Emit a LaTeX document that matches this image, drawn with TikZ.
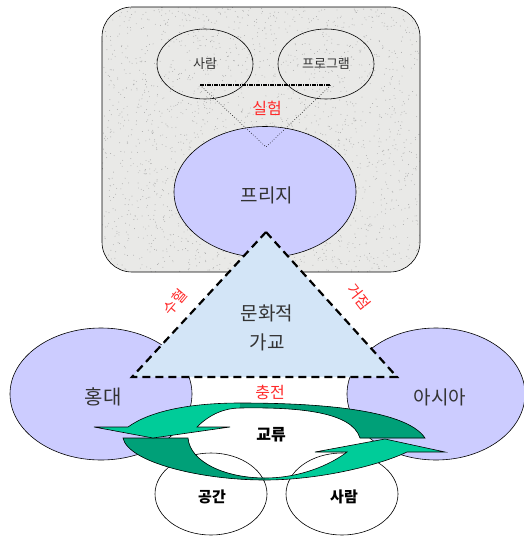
\documentclass[tikz,border=0pt]{standalone}
\usepackage{fontspec}
\setmainfont{Noto Sans CJK KR}
\usetikzlibrary{shapes.geometric}
\definecolor{lav}{HTML}{CCCCFF}
\definecolor{granite}{HTML}{E9E9E7}
\definecolor{speck}{HTML}{A8A8A8}
\definecolor{bridge}{HTML}{D3E5F7}
\definecolor{glight}{HTML}{00CC99}
\definecolor{gdark}{HTML}{00A078}
\definecolor{txt}{HTML}{333333}
\definecolor{redtxt}{HTML}{FF2A2A}
\tikzset{
  oval/.style={ellipse, draw=black, line width=0.6pt, inner sep=0pt, text=txt},
  lavoval/.style={oval, fill=lav},
  redlbl/.style={text=redtxt, inner sep=0pt},
  plainlbl/.style={text=txt, inner sep=0pt},
  boldlbl/.style={text=black, inner sep=0pt, font=\bfseries\fontsize{15}{15}\selectfont},
  ribbon/.style={draw=black, line width=0.6pt},
}
\begin{document}
\begin{tikzpicture}[x=1pt,y=-1pt]
\useasboundingbox (0,0) rectangle (523,536);

% outer rounded box with granite speckle
\fill[rounded corners=30pt, granite] (102,7) rectangle (420,272);
\begin{scope}
  \clip[rounded corners=30pt] (102,7) rectangle (420,272);
  \pgfmathsetseed{7}
  \foreach \i in {1,...,2200} {
    \fill[speck] ({102+318*rnd},{7+265*rnd}) circle (0.45pt);
  }
\end{scope}
\draw[rounded corners=30pt, line width=0.6pt] (102,7) rectangle (420,272);

% top small ellipses
\node[oval, minimum width=96pt, minimum height=70pt, font=\fontsize{13}{13}\selectfont] (saram1) at (205,64) {사람};
\node[oval, minimum width=96pt, minimum height=70pt, font=\fontsize{13}{13}\selectfont] (program) at (326,64) {프로그램};

% Fringe ellipse
\node[lavoval, minimum width=182pt, minimum height=131pt] (fringe) at (265,192) {};
\node[plainlbl, font=\fontsize{19}{19}\selectfont] (fringelbl) at (267,195) {프리지};

% dotted triangle
\coordinate (dl) at (200,85);
\coordinate (dr) at (331,85);
\coordinate (dt) at (266,147);
\draw[line width=1.2pt, dash pattern=on 4pt off 1pt on 1pt off 1pt] (dl) -- (dr);
\draw[line width=0.6pt, dotted] (dl) -- (dt) -- (dr);
\node[redlbl, font=\fontsize{16}{16}\selectfont] (silheom) at (267,108) {실험};

% side ellipses
\node[lavoval, minimum width=182pt, minimum height=132pt] (hongdae) at (101,394) {};
\node[lavoval, minimum width=178pt, minimum height=132pt] (asia) at (436,394) {};
\node[plainlbl, font=\fontsize{20}{20}\selectfont] (hongdaelbl) at (103,397) {홍대};
\node[plainlbl, font=\fontsize{19}{19}\selectfont] (asialbl) at (440,397) {아시아};

% cultural bridge triangle
\coordinate (ta) at (266,232);
\coordinate (tr) at (397,377);
\coordinate (tl) at (132,377);
\draw[fill=bridge, line width=2.2pt, dash pattern=on 8pt off 5pt, line join=miter] (ta) -- (tr) -- (tl) -- cycle;
\node[plainlbl, font=\fontsize{19}{19}\selectfont] (munhwa) at (267,313) {문화적};
\node[plainlbl, font=\fontsize{19}{19}\selectfont] (gagyo) at (267,342) {가교};
\node[redlbl, rotate=50, font=\fontsize{15}{15}\selectfont] (suhyeol) at (175,302) {수혈};
\node[redlbl, rotate=-52, font=\fontsize{15}{15}\selectfont] (geojeom) at (359,297) {거점};
\node[redlbl, font=\fontsize{16}{16}\selectfont] (chungjeon) at (270,392) {충전};

% bottom ellipses
\node[oval, fill=white, minimum width=112pt, minimum height=82pt] (gonggan) at (211,494) {};
\node[oval, fill=white, minimum width=112pt, minimum height=82pt] (saram2) at (342,494) {};

% bottom arrow (points right/up)
\fill[glight] (123,438) .. controls (128,462) and (200,480) .. (265,480) .. controls (320,480) and (380,465) .. (407,452) -- (445,452) -- (385,439) -- (315,452) -- (347,452) .. controls (330,465) and (300,478) .. (265,478) .. controls (225,478) and (190,462) .. (188,438) -- cycle;
\fill[gdark] (123,438) .. controls (128,462) and (200,480) .. (265,480) -- (265,478) .. controls (225,478) and (190,462) .. (188,438) -- cycle;
\draw[ribbon] (123,438) .. controls (128,462) and (200,480) .. (265,480) .. controls (320,480) and (380,465) .. (407,452) -- (445,452) -- (385,439) -- (315,452) -- (347,452) .. controls (330,465) and (300,478) .. (265,478) .. controls (225,478) and (190,462) .. (188,438) -- cycle;

% top arrow (points left)
\fill[glight] (425,438) .. controls (405,408) and (310,403) .. (240,403) .. controls (190,403) and (150,411) .. (128,427) -- (94,427) -- (153,438) -- (230,427) -- (197,427) .. controls (210,414) and (225,408) .. (240,408) .. controls (300,407) and (352,412) .. (360,438) -- cycle;
\fill[gdark] (425,438) .. controls (405,408) and (310,403) .. (240,403) -- (240,408) .. controls (300,407) and (352,412) .. (360,438) -- cycle;
\draw[ribbon] (425,438) .. controls (405,408) and (310,403) .. (240,403) .. controls (190,403) and (150,411) .. (128,427) -- (94,427) -- (153,438) -- (230,427) -- (197,427) .. controls (210,414) and (225,408) .. (240,408) .. controls (300,407) and (352,412) .. (360,438) -- cycle;

\node[boldlbl, font=\bfseries\fontsize{16}{16}\selectfont] (gyoryu) at (271,435) {교류};
\node[boldlbl] (gongganlbl) at (212,497) {공간};
\node[boldlbl] (saram2lbl) at (344,497) {사람};
\end{tikzpicture}
\end{document}
